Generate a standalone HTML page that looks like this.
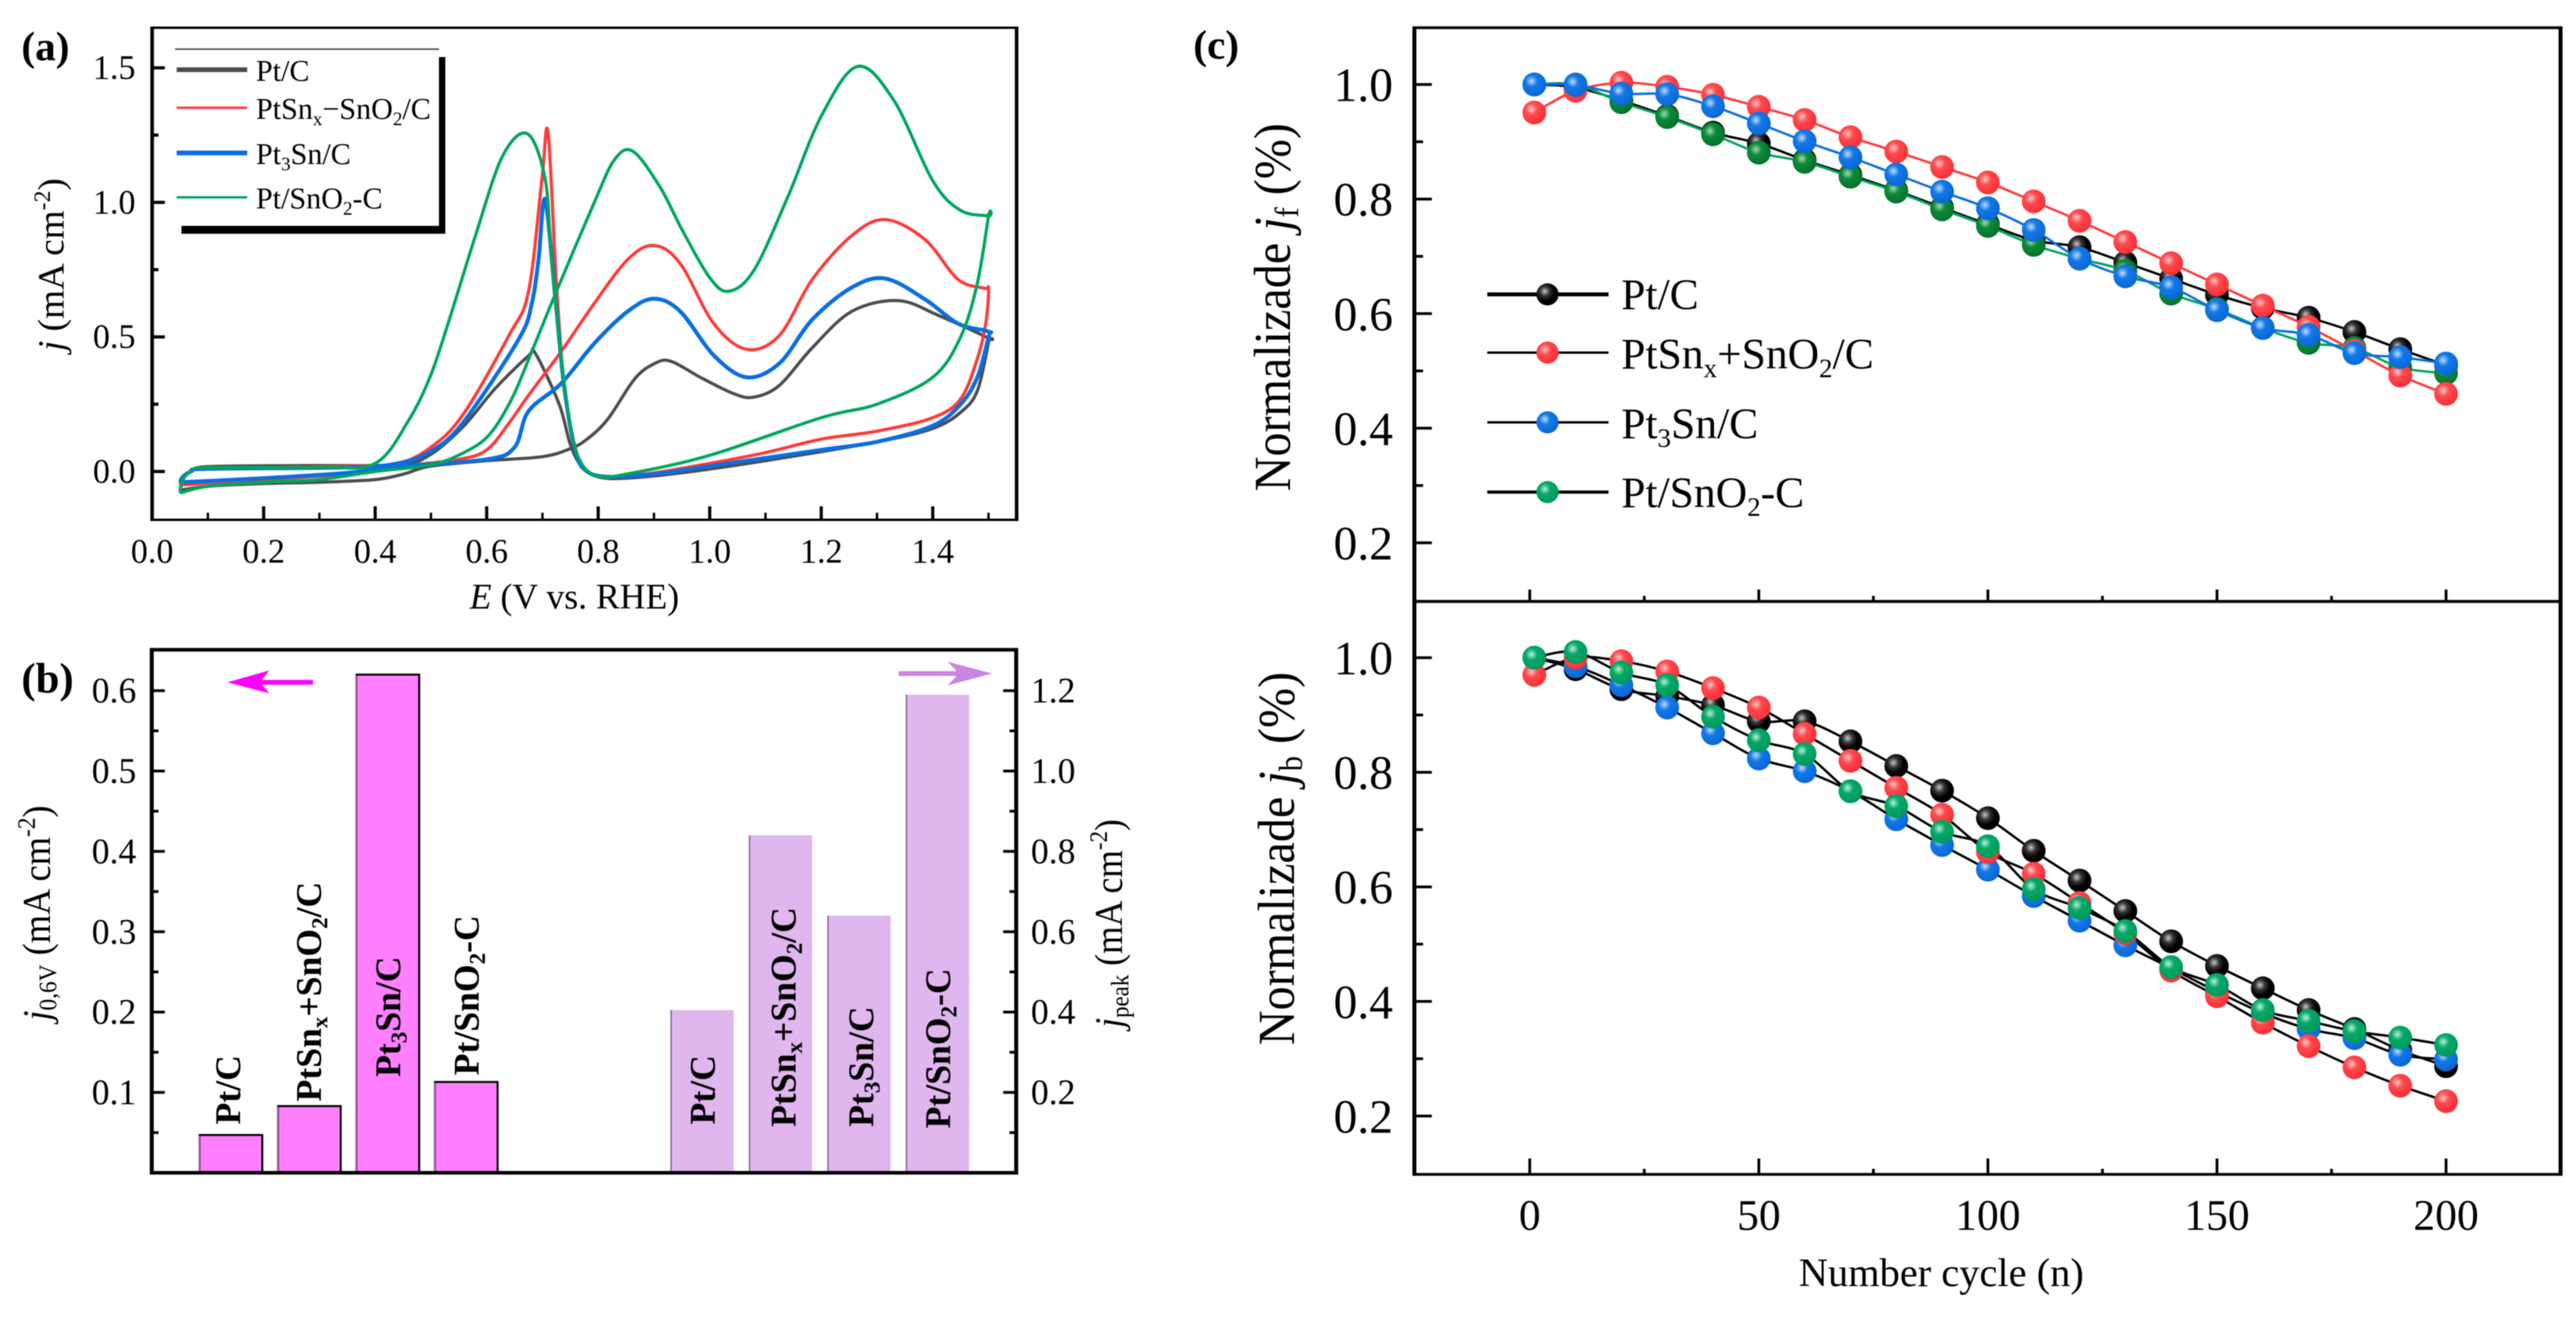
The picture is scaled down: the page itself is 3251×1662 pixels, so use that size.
<!DOCTYPE html>
<html lang="en">
<head>
<meta charset="utf-8">
<title>Electrochemical performance of Pt catalysts</title>
<style>
html,body{margin:0;padding:0;background:#fff;}
svg{display:block;font-family:"Liberation Serif",serif;fill:#000;filter:blur(0.6px);}
</style>
</head>
<body>
<svg id="fig" xmlns="http://www.w3.org/2000/svg" width="3251" height="1662" viewBox="0 0 3251 1662">
<defs>
<radialGradient id="ball-black" cx="0.38" cy="0.36" r="0.62"><stop offset="0" stop-color="#c8c8c8"/><stop offset="0.35" stop-color="#333"/><stop offset="0.7" stop-color="#000"/></radialGradient>
<radialGradient id="ball-red" cx="0.38" cy="0.36" r="0.62"><stop offset="0" stop-color="#ffc8c8"/><stop offset="0.4" stop-color="#ff4a4e"/><stop offset="1" stop-color="#fb3038"/></radialGradient>
<radialGradient id="ball-blue" cx="0.38" cy="0.36" r="0.62"><stop offset="0" stop-color="#c0dcff"/><stop offset="0.4" stop-color="#1278e6"/><stop offset="1" stop-color="#0a68d8"/></radialGradient>
<radialGradient id="ball-green" cx="0.38" cy="0.36" r="0.62"><stop offset="0" stop-color="#bdeed8"/><stop offset="0.4" stop-color="#03a868"/><stop offset="1" stop-color="#009a5c"/></radialGradient>
<radialGradient id="ball-dkgreen" cx="0.38" cy="0.36" r="0.62"><stop offset="0" stop-color="#a8d8b0"/><stop offset="0.4" stop-color="#0c8a3a"/><stop offset="1" stop-color="#04752c"/></radialGradient>
</defs>
<g id="panel-a"></g>
<g id="panel-b"></g>
<g id="panel-c"></g>

<text x="27" y="76" font-size="52" font-weight="bold">(a)</text>
<text x="27" y="874" font-size="54" font-weight="bold">(b)</text>
<text x="1506" y="74" font-size="52" font-weight="bold">(c)</text>

<text x="725" y="768" font-size="45" text-anchor="middle"><tspan font-style="italic">E</tspan> (V vs. RHE)</text>
<text transform="translate(80,443) rotate(-90)" font-size="47"><tspan font-style="italic">j</tspan> (mA cm<tspan font-size="30" dy="-17">-2</tspan><tspan dy="17">)</tspan></text>

<g>
<rect x="229" y="72" width="333" height="223" fill="#000"/>
<rect x="221" y="62" width="333" height="223" fill="#fff"/>
<line x1="221" x2="554" y1="62" y2="62" stroke="#555" stroke-width="2"/>
<line x1="223" x2="312" y1="88" y2="88" stroke="#4d4d4d" stroke-width="6"/>
<line x1="223" x2="312" y1="136" y2="136" stroke="#ff3a3a" stroke-width="3"/>
<line x1="223" x2="312" y1="193" y2="193" stroke="#0a6fe0" stroke-width="6"/>
<line x1="223" x2="312" y1="249" y2="249" stroke="#00a65f" stroke-width="3"/>
<text x="323" y="102" font-size="38">Pt/C</text>
<text x="323" y="150" font-size="38">PtSn<tspan font-size="24" dy="8">x</tspan><tspan dy="-8">−SnO</tspan><tspan font-size="24" dy="8">2</tspan><tspan dy="-8">/C</tspan></text>
<text x="323" y="207" font-size="38">Pt<tspan font-size="24" dy="8">3</tspan><tspan dy="-8">Sn/C</tspan></text>
<text x="323" y="263" font-size="38">Pt/SnO<tspan font-size="24" dy="8">2</tspan><tspan dy="-8">-C</tspan></text>
</g>

<g font-size="45" font-weight="bold">
<text transform="translate(303,1419) rotate(-90)">Pt/C</text>
<text transform="translate(405,1390) rotate(-90)">PtSn<tspan font-size="29" dy="8">x</tspan><tspan dy="-8">+SnO</tspan><tspan font-size="29" dy="8">2</tspan><tspan dy="-8">/C</tspan></text>
<text transform="translate(505,1359) rotate(-90)">Pt<tspan font-size="29" dy="8">3</tspan><tspan dy="-8">Sn/C</tspan></text>
<text transform="translate(604,1357) rotate(-90)">Pt/SnO<tspan font-size="29" dy="8">2</tspan><tspan dy="-8">-C</tspan></text>
<text transform="translate(902,1419) rotate(-90)">Pt/C</text>
<text transform="translate(1004,1422) rotate(-90)">PtSn<tspan font-size="29" dy="8">x</tspan><tspan dy="-8">+SnO</tspan><tspan font-size="29" dy="8">2</tspan><tspan dy="-8">/C</tspan></text>
<text transform="translate(1102,1422) rotate(-90)">Pt<tspan font-size="29" dy="8">3</tspan><tspan dy="-8">Sn/C</tspan></text>
<text transform="translate(1199,1424) rotate(-90)">Pt/SnO<tspan font-size="29" dy="8">2</tspan><tspan dy="-8">-C</tspan></text>
</g>

<text transform="translate(63,1288) rotate(-90) scale(0.92,1)" font-size="50"><tspan font-style="italic">j</tspan><tspan font-size="32" dy="8">0,6V</tspan><tspan dy="-8"> (mA cm</tspan><tspan font-size="32" dy="-19">-2</tspan><tspan dy="19">)</tspan></text>
<text transform="translate(1416,1297) rotate(-90) scale(0.9,1)" font-size="50"><tspan font-style="italic">j</tspan><tspan font-size="32" dy="8">peak</tspan><tspan dy="-8"> (mA cm</tspan><tspan font-size="32" dy="-19">-2</tspan><tspan dy="19">)</tspan></text>

<g>
<line x1="395" x2="320" y1="861" y2="861" stroke="#ff00ff" stroke-width="6"/>
<polygon points="287,861 340,846 328,861 340,875" fill="#ff00ff"/>
</g>
<g>
<line x1="1134" x2="1220" y1="850" y2="850" stroke="#c985e0" stroke-width="6"/>
<polygon points="1252,850 1196,835 1210,850 1196,865" fill="#c985e0"/>
</g>

<text transform="translate(1628,620) rotate(-90) scale(0.92,1)" font-size="66">Normalizade <tspan font-style="italic">j</tspan><tspan font-size="42" dy="10">f</tspan><tspan dy="-10"> (%)</tspan></text>
<text transform="translate(1633,1319) rotate(-90) scale(0.92,1)" font-size="66">Normalizade <tspan font-style="italic">j</tspan><tspan font-size="42" dy="10">b</tspan><tspan dy="-10"> (%)</tspan></text>
<text x="2450" y="1623" font-size="51" text-anchor="middle">Number cycle (n)</text>

<g>
<line x1="1877" x2="2030" y1="371.5" y2="371.5" stroke="#000" stroke-width="5"/>
<line x1="1877" x2="2030" y1="445" y2="445" stroke="#000" stroke-width="3"/>
<line x1="1877" x2="2030" y1="533" y2="533" stroke="#000" stroke-width="3"/>
<line x1="1877" x2="2030" y1="621" y2="621" stroke="#000" stroke-width="4"/>
<circle cx="1953" cy="371.5" r="14" fill="url(#ball-black)"/>
<circle cx="1953" cy="445" r="14" fill="url(#ball-red)"/>
<circle cx="1953" cy="533" r="14" fill="url(#ball-blue)"/>
<circle cx="1953" cy="621" r="14" fill="url(#ball-green)"/>
<text x="2046" y="390" font-size="55">Pt/C</text>
<text x="2046" y="465" font-size="55">PtSn<tspan font-size="34" dy="11">x</tspan><tspan dy="-11">+SnO</tspan><tspan font-size="34" dy="11">2</tspan><tspan dy="-11">/C</tspan></text>
<text x="2046" y="553" font-size="55">Pt<tspan font-size="34" dy="11">3</tspan><tspan dy="-11">Sn/C</tspan></text>
<text x="2046" y="640" font-size="55">Pt/SnO<tspan font-size="34" dy="11">2</tspan><tspan dy="-11">-C</tspan></text>
</g>
</svg>

<script>
// ---------- Panel (a): cyclic voltammograms (E in V, j in mA cm-2) ----------
const ptcE  = [0.05,0.1,0.2,0.3,0.4,0.45,0.5,0.6,0.7,0.75,0.78,0.817,0.865,0.9,0.93,0.983,1.042,1.078,1.125,1.184,1.255,1.338,1.41,1.5,1.5,1.48,1.45,1.4,1.3,1.1,0.95,0.85,0.8,0.77,0.75,0.73,0.687,0.675,0.616,0.557,0.497,0.44,0.27,0.1,0.07,0.055,0.05];
const ptcJ  = [-0.07,-0.055,-0.045,-0.04,-0.03,-0.01,0.02,0.04,0.055,0.085,0.12,0.194,0.343,0.4,0.41,0.35,0.29,0.276,0.32,0.46,0.595,0.635,0.58,0.495,0.48,0.3,0.22,0.16,0.11,0.04,-0.005,-0.025,-0.02,0.02,0.1,0.25,0.44,0.43,0.31,0.165,0.06,0.025,0.022,0.018,0,-0.03,-0.07];
const ptsnxE = [0.05,0.2,0.35,0.45,0.55,0.6,0.64,0.675,0.734,0.793,0.853,0.9,0.947,1.007,1.066,1.125,1.184,1.255,1.315,1.386,1.445,1.492,1.5,1.495,1.48,1.45,1.4,1.3,1.2,1.1,1.0,0.9,0.82,0.78,0.76,0.74,0.725,0.71,0.699,0.675,0.64,0.557,0.5,0.44,0.35,0.1,0.07,0.055,0.05];
const ptsnxJ = [-0.05,-0.03,-0.01,0.02,0.045,0.08,0.18,0.283,0.447,0.625,0.788,0.84,0.773,0.55,0.454,0.506,0.714,0.877,0.936,0.862,0.714,0.681,0.677,0.55,0.42,0.27,0.2,0.15,0.12,0.07,0.03,-0.005,-0.02,0,0.08,0.3,0.7,1.26,1.085,0.669,0.506,0.21,0.09,0.03,0.02,0.01,0,-0.02,-0.05];
const pt3snE = [0.05,0.2,0.35,0.45,0.6,0.65,0.675,0.734,0.793,0.853,0.9,0.947,1.007,1.066,1.125,1.184,1.255,1.315,1.386,1.445,1.5,1.5,1.48,1.45,1.4,1.3,1.2,1.0,0.9,0.82,0.78,0.76,0.74,0.725,0.705,0.693,0.681,0.657,0.557,0.5,0.44,0.35,0.1,0.07,0.055,0.05];
const pt3snJ = [-0.04,-0.025,-0.005,0.02,0.045,0.09,0.224,0.328,0.476,0.595,0.642,0.595,0.432,0.35,0.402,0.565,0.684,0.717,0.64,0.55,0.52,0.5,0.35,0.25,0.17,0.11,0.08,0.02,-0.01,-0.02,0,0.07,0.3,0.6,1.01,0.788,0.625,0.49,0.18,0.075,0.03,0.015,0.01,0,-0.02,-0.04];
const ptsno2E = [0.05,0.1,0.2,0.3,0.4,0.5,0.557,0.604,0.645,0.681,0.722,0.793,0.829,0.862,0.91,0.95,1.0,1.035,1.08,1.14,1.2,1.265,1.33,1.4,1.45,1.5,1.5,1.48,1.45,1.4,1.3,1.2,1.0,0.85,0.8,0.77,0.752,0.734,0.716,0.705,0.673,0.628,0.58,0.533,0.5,0.46,0.4,0.3,0.1,0.07,0.055,0.05];
const ptsno2J = [-0.08,-0.055,-0.04,-0.03,0,0.025,0.068,0.135,0.27,0.446,0.654,1.0,1.158,1.19,1.06,0.9,0.72,0.67,0.75,1.02,1.32,1.505,1.38,1.08,0.97,0.95,0.95,0.7,0.5,0.35,0.25,0.2,0.06,-0.01,-0.018,0.03,0.15,0.417,0.79,1.085,1.255,1.17,0.877,0.565,0.36,0.19,0.03,0.015,0.015,0,-0.03,-0.08];

const cvXTickValues = [0,0.1,0.2,0.3,0.4,0.5,0.6,0.7,0.8,0.9,1.0,1.1,1.2,1.3,1.4,1.5];
const cvXTickLabels = ["0.0","","0.2","","0.4","","0.6","","0.8","","1.0","","1.2","","1.4",""];
const cvYTickValues = [0,0.25,0.5,0.75,1.0,1.25,1.5];
const cvYTickLabels = ["0.0","","0.5","","1.0","","1.5"];

// ---------- Panel (b): bar values ----------
const barCategories = ["Pt/C","PtSnx+SnO2/C","Pt3Sn/C","Pt/SnO2-C"];
const j06Values = [0.047,0.083,0.62,0.113];
const jPeakValues = [0.405,0.84,0.64,1.19];
const barLeftTickValues = [0.05,0.1,0.15,0.2,0.25,0.3,0.35,0.4,0.45,0.5,0.55,0.6];
const barLeftTickLabels = ["","0.1","","0.2","","0.3","","0.4","","0.5","","0.6"];
const barRightTickValues = [0.1,0.2,0.3,0.4,0.5,0.6,0.7,0.8,0.9,1.0,1.1,1.2];
const barRightTickLabels = ["","0.2","","0.4","","0.6","","0.8","","1.0","","1.2"];

// ---------- Panel (c): normalized current vs. cycle ----------
const cycles = [1,10,20,30,40,50,60,70,80,90,100,110,120,130,140,150,160,170,180,190,200];
const jfPtC    = [1.0,0.995,0.972,0.945,0.916,0.897,0.868,0.842,0.815,0.785,0.756,0.728,0.716,0.689,0.661,0.633,0.61,0.593,0.568,0.538,0.51];
const jfPtSnO2 = [1.0,1.0,0.969,0.943,0.913,0.881,0.865,0.839,0.813,0.782,0.753,0.72,0.696,0.675,0.635,0.608,0.575,0.549,0.54,0.506,0.496];
const jfPtSnx  = [0.951,0.989,1.003,0.996,0.982,0.961,0.938,0.908,0.883,0.856,0.829,0.796,0.762,0.725,0.688,0.651,0.614,0.577,0.535,0.492,0.46];
const jfPt3Sn  = [1.0,0.999,0.984,0.983,0.962,0.932,0.901,0.873,0.843,0.813,0.784,0.746,0.696,0.665,0.646,0.606,0.575,0.563,0.531,0.524,0.513];
const jbPtC    = [1.0,0.98,0.945,0.933,0.917,0.889,0.889,0.854,0.811,0.768,0.72,0.663,0.611,0.558,0.505,0.462,0.423,0.385,0.352,0.315,0.287];
const jbPtSnx  = [0.97,1.0,0.994,0.976,0.947,0.913,0.867,0.82,0.773,0.726,0.661,0.623,0.572,0.519,0.454,0.409,0.363,0.322,0.285,0.253,0.226];
const jbPt3Sn  = [1.0,0.985,0.952,0.913,0.868,0.824,0.802,0.767,0.718,0.673,0.63,0.584,0.541,0.498,0.458,0.417,0.38,0.352,0.336,0.307,0.299];
const jbPtSnO2 = [1.0,1.01,0.974,0.952,0.897,0.856,0.832,0.767,0.741,0.696,0.671,0.596,0.563,0.523,0.46,0.429,0.385,0.366,0.348,0.337,0.324];
const cycleTickValues = [0,25,50,75,100,125,150,175,200];
const cycleTickLabels = ["0","","50","","100","","150","","200"];
const normTickValues = [0.2,0.3,0.4,0.5,0.6,0.7,0.8,0.9,1.0];
const normTickLabels = ["0.2","","0.4","","0.6","","0.8","","1.0"];

// ---------- Axis functions ----------
const xA = v => 192 + 703.7 * v;
const yA = v => 595 - 339.6 * v;
const yBL = v => 1480 - 1014 * v;
const yBR = v => 1480 - 507 * v;
const xBand = (group, i) => (group === 0 ? 252 : 847) + 99 * i;
const xC = v => 1930.6 + 5.782 * v;
const yCT = v => 106.6 + (1 - v) * 723;
const yCB = v => 830 + (1 - v) * 723;

const NS = "http://www.w3.org/2000/svg";
function mk(tag, parent, props) {
  const e = document.createElementNS(NS, tag);
  for (const k in props) e.setAttribute(k, props[k]);
  parent.appendChild(e);
  return e;
}
function spline(pts) {
  let d = "M" + pts[0][0].toFixed(1) + " " + pts[0][1].toFixed(1);
  for (let i = 0; i < pts.length - 1; i++) {
    const p0 = pts[Math.max(0, i - 1)], p1 = pts[i], p2 = pts[i + 1], p3 = pts[Math.min(pts.length - 1, i + 2)];
    const c1x = p1[0] + (p2[0] - p0[0]) / 6, c1y = p1[1] + (p2[1] - p0[1]) / 6;
    const c2x = p2[0] - (p3[0] - p1[0]) / 6, c2y = p2[1] - (p3[1] - p1[1]) / 6;
    d += "C" + c1x.toFixed(1) + " " + c1y.toFixed(1) + " " + c2x.toFixed(1) + " " + c2y.toFixed(1) + " " + p2[0].toFixed(1) + " " + p2[1].toFixed(1);
  }
  return d;
}
function frame(parent, x, y, w, h, sv, sh) {
  [[x, y, x, y + h, sv], [x + w, y, x + w, y + h, sv], [x - sv / 2, y, x + w + sv / 2, y, sh], [x - sv / 2, y + h, x + w + sv / 2, y + h, sh]].forEach(s => {
    const r = mk("line", parent, {x1: s[0], y1: s[1], x2: s[2], y2: s[3], stroke: "#000", "stroke-width": s[4]});
    
    
  });
}
function xTicks(parent, vals, labels, sx, yBase, major, minor, labelY, fs, swMajor, swMinor) {
  vals.forEach((v, i) => {
    const isMajor = labels[i] !== "" || v % 50 === 0;
    const t = mk("line", parent, {x1: sx(v), x2: sx(v), y1: yBase, y2: yBase - (isMajor ? major : minor), stroke: "#000", "stroke-width": isMajor ? swMajor : swMinor});
    
    
    if (labels[i] !== "" && labelY) {
      const l = mk("text", parent, {x: sx(v), y: labelY, "font-size": fs, "text-anchor": "middle"});
      
      
      l.textContent = labels[i];
    }
  });
}
function yTicks(parent, vals, labels, sy, xBase, dir, major, minor, labelX, anchor, fs, sw, dyBase) {
  vals.forEach((v, i) => {
    const isMajor = labels[i] !== "";
    const t = mk("line", parent, {x1: xBase, x2: xBase + dir * (isMajor ? major : minor), y1: sy(v), y2: sy(v), stroke: "#000", "stroke-width": sw});
    
    
    if (isMajor) {
      const l = mk("text", parent, {x: labelX, y: sy(v) + dyBase, "font-size": fs, "text-anchor": anchor});
      
      
      l.textContent = labels[i];
    }
  });
}

// ---------- Draw panel (a) ----------
const pa = document.getElementById("panel-a");
[[ptcE, ptcJ, "#4d4d4d", 4, "cv-curve-pt-c"],
 [ptsnxE, ptsnxJ, "#ff3a3a", 4, "cv-curve-ptsnx-sno2"],
 [pt3snE, pt3snJ, "#0a6fe0", 5, "cv-curve-pt3sn"],
 [ptsno2E, ptsno2J, "#00a65f", 4, "cv-curve-pt-sno2"]].forEach(s => {
  const pts = s[0].map((e, i) => [xA(e), yA(s[1][i])]);
  const c = mk("path", pa, {d: spline(pts), fill: "none", stroke: s[2], "stroke-width": s[3], "stroke-linejoin": "round"});
  
  
});
frame(pa, 192, 35, 1091, 621, 4.5, 3);
xTicks(pa, cvXTickValues, cvXTickLabels, xA, 656, 17, 9, 710, 43, 4, 3);
yTicks(pa, cvYTickValues, cvYTickLabels, yA, 192, 1, 16, 8, 171, "end", 43, 4, 14);

// ---------- Draw panel (b) ----------
const pb = document.getElementById("panel-b");
j06Values.forEach((v, i) => {
  const b = mk("rect", pb, {x: xBand(0, i), y: yBL(v), width: 79, height: 1480 - yBL(v), fill: "#ff80ff", stroke: "#000", "stroke-width": 2.5});
  
  
  const e = mk("line", pb, {x1: xBand(0, i), x2: xBand(0, i), y1: yBL(v) + 1, y2: 1480, stroke: "#a05a9f", "stroke-width": 2.5});
  
  
});
jPeakValues.forEach((v, i) => {
  const b = mk("rect", pb, {x: xBand(1, i), y: yBR(v), width: 79, height: 1480 - yBR(v), fill: "#e0b6ee"});
  
  
  const e = mk("line", pb, {x1: xBand(1, i), x2: xBand(1, i), y1: yBR(v), y2: 1480, stroke: "#8f6f9f", "stroke-width": 2});
  
  
});
frame(pb, 191.5, 820, 1091, 660, 5, 4.5);
yTicks(pb, barLeftTickValues, barLeftTickLabels, yBL, 192, 1, 16, 8, 172, "end", 45, 3.5, 15);
yTicks(pb, barRightTickValues, barRightTickLabels, yBR, 1282, -1, 16, 8, 1301, "start", 45, 3.5, 15);

// ---------- Draw panel (c) ----------
const pc = document.getElementById("panel-c");
function drawSeries(values, sy, lineColor, lineW, fill, name) {
  const pts = values.map((v, i) => [xC(cycles[i]), sy(v)]);
  const c = mk("path", pc, {d: spline(pts), fill: "none", stroke: lineColor, "stroke-width": lineW});
  
  
  return {pts: pts, fill: fill, name: name};
}
function drawMarkers(s) {
  s.pts.forEach(p => {
    const m = mk("circle", pc, {cx: p[0], cy: p[1], r: 15, fill: "url(#" + s.fill + ")"});
    
    
  });
}
[[jfPtC, "#000", 3, "ball-black", "jf-pt-c"],
 [jfPtSnO2, "#00a65f", 3, "ball-dkgreen", "jf-pt-sno2"],
 [jfPtSnx, "#ff3a3a", 3, "ball-red", "jf-ptsnx"],
 [jfPt3Sn, "#0a6fe0", 3, "ball-blue", "jf-pt3sn"]].forEach(s => {
  drawMarkers(drawSeries(s[0], yCT, s[1], s[2], s[3], s[4]));
});
[[jbPtC, "ball-black", "jb-pt-c"],
 [jbPt3Sn, "ball-blue", "jb-pt3sn"],
 [jbPtSnx, "ball-red", "jb-ptsnx"],
 [jbPtSnO2, "ball-green", "jb-pt-sno2"]].forEach(s => {
  drawSeries(s[0], yCB, "#000", 3, s[1], s[2]);
});
[[jbPtC, "ball-black", "jb-pt-c"],
 [jbPt3Sn, "ball-blue", "jb-pt3sn"],
 [jbPtSnx, "ball-red", "jb-ptsnx"],
 [jbPtSnO2, "ball-green", "jb-pt-sno2"]].forEach(s => {
  drawMarkers({pts: s[0].map((v, i) => [xC(cycles[i]), yCB(v)]), fill: s[1], name: s[2]});
});
frame(pc, 1785, 35, 1446.5, 724, 5, 3.5);
frame(pc, 1785, 759, 1446.5, 723, 5, 3.5);
xTicks(pc, cycleTickValues, cycleTickLabels, xC, 759, 15, 7, 0, 55, 3.5, 3.5);
xTicks(pc, cycleTickValues, cycleTickLabels, xC, 1482, 20, 7, 1552, 55, 3.5, 3.5);
yTicks(pc, normTickValues, normTickLabels, yCT, 1785, 1, 22, 11, 1758, "end", 60, 3.5, 21);
yTicks(pc, normTickValues, normTickLabels, yCB, 1785, 1, 22, 11, 1758, "end", 60, 3.5, 21);
</script>
</body>
</html>
